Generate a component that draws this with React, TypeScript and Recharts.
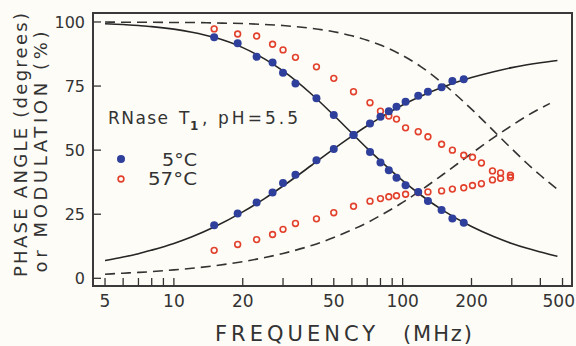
import { ComposedChart, Line, ReferenceArea, Scatter, XAxis, YAxis } from "recharts";

// frequencies (MHz) for the fitted curves
const fitFreq = [5, 6, 7, 8, 10, 12, 15, 20, 25, 30, 40, 50, 60, 70, 80, 100, 120, 150, 200, 250, 300, 350, 400, 440, 475];
// 5°C fit (solid)
const phaseFit5 = [6.9, 8.3, 9.6, 11.0, 13.6, 16.2, 20.0, 25.9, 31.2, 36.0, 44.1, 50.5, 55.5, 59.5, 62.7, 67.6, 71.0, 74.6, 78.3, 80.6, 82.2, 83.3, 84.1, 84.6, 85.0];
const modFit5 = [99.3, 99.0, 98.6, 98.2, 97.2, 96.0, 94.0, 90.0, 85.5, 80.9, 71.8, 63.6, 56.6, 50.7, 45.8, 38.1, 32.5, 26.5, 20.2, 16.3, 13.6, 11.7, 10.3, 9.3, 8.6];
// 57°C fit (dashed)
const phaseFit57 = [1.6, 2.0, 2.3, 2.6, 3.3, 3.9, 4.9, 6.5, 8.1, 9.7, 12.8, 15.9, 18.9, 21.7, 24.5, 29.6, 34.3, 40.5, 48.7, 54.9, 59.6, 63.4, 66.3, 68.2, null];
const modFit57 = [100.0, 99.9, 99.9, 99.9, 99.8, 99.8, 99.6, 99.4, 99.0, 98.6, 97.5, 96.2, 94.6, 92.9, 91.0, 86.9, 82.6, 76.0, 66.0, 57.5, 50.5, 44.8, 40.2, 37.1, 34.7];

// measured frequencies (MHz)
const measFreq = [15, 19, 23, 27, 30, 34, 42, 50, 61, 72, 80, 87, 94, 103, 117, 129, 148, 165, 185, 202, 221, 247, 268, 296];
// 5°C data (first 19 frequencies)
const phase5 = [20.7, 25.3, 29.6, 33.5, 37.2, 40.4, 46.1, 50.4, 55.9, 60.4, 63.0, 65.2, 66.9, 68.9, 71.2, 72.8, 74.5, 77.0, 77.7];
const mod5 = [94.0, 91.7, 86.4, 84.2, 80.2, 76.0, 70.2, 63.7, 55.9, 49.3, 45.2, 42.2, 39.2, 36.3, 33.7, 30.2, 26.6, 23.3, 21.7];
// 57°C data
const phase57 = [10.9, 13.2, 15.1, 17.1, 19.1, 21.4, 23.2, 25.6, 28.1, 30.1, 31.1, 31.8, 32.2, 32.8, 33.5, 33.7, 34.1, 34.8, 35.3, 36.2, 36.9, 38.4, 39.0, 39.3];
const mod57 = [97.3, 95.3, 94.5, 91.3, 89.1, 86.2, 82.5, 78.0, 72.8, 68.5, 65.2, 63.3, 62.1, 58.7, 57.2, 55.2, 52.3, 50.0, 48.0, 47.2, 45.0, 41.9, 41.1, 40.2];

const xTicks = [5, 6, 7, 8, 9, 10, 20, 30, 40, 50, 60, 70, 80, 90, 100, 200, 300, 400, 500];
const xLabeled = [5, 10, 20, 50, 100, 200, 500];
const yTicks = [0, 25, 50, 75, 100];

const X_DOMAIN: [number, number] = [4.43, 550];
const Y_DOMAIN: [number, number] = [-3, 103.5];

const ink = "#333333";
const blue = "#2f3f9c";
const red = "#e2402c";
const font = "'DejaVu Sans', sans-serif";

const toPoints = (xs: number[], ys: (number | null)[]) => ys.map((v, i) => ({ f: xs[i], v }));

const XTick = (props: any) => {
	const { x, y, payload } = props;
	// the last label sits against the right edge, as in the original
	const last = payload.value === 500;
	return (
		<g>
			<line x1={x} y1={y} x2={x} y2={y - 8} stroke={ink} strokeWidth={1.3} />
			{xLabeled.includes(payload.value) && (
				<text
					x={last ? 575 : x}
					y={y + 21}
					textAnchor={last ? "end" : "middle"}
					fontSize={17}
					fontFamily={font}
					fill={ink}
				>
					{payload.value}
				</text>
			)}
		</g>
	);
};

const YTick = (props: any) => {
	const { x, y, payload } = props;
	return (
		<g>
			<line x1={x} y1={y} x2={x + 8} y2={y} stroke={ink} strokeWidth={1.3} />
			<text x={x - 8} y={y} dy="0.36em" textAnchor="end" fontSize={16} fontFamily={font} fill={ink}>
				{payload.value}
			</text>
		</g>
	);
};

const BlueDot = (p: any) => <circle cx={p.cx} cy={p.cy} r={4} fill={blue} />;
const RedRing = (p: any) => <circle cx={p.cx} cy={p.cy} r={2.9} fill="none" stroke={red} strokeWidth={1.6} />;

export default function App() {
	return (
		<div style={{ position: "absolute", left: 0, top: 0, width: 576, height: 346, background: "#fdfcf6" }}>
			<ComposedChart width={576} height={346} margin={{ top: 13, right: 4, bottom: 0, left: 0 }}>
				<XAxis
					dataKey="f"
					type="number"
					scale="log"
					domain={X_DOMAIN}
					allowDataOverflow
					ticks={xTicks}
					interval={0}
					axisLine={false}
					tickLine={false}
					tickSize={0}
					tickMargin={0}
					height={60}
					tick={XTick}
				/>
				<YAxis
					dataKey="v"
					type="number"
					domain={Y_DOMAIN}
					allowDataOverflow
					ticks={yTicks}
					interval={0}
					axisLine={false}
					tickLine={false}
					tickSize={0}
					tickMargin={0}
					width={93}
					tick={YTick}
				/>
				<ReferenceArea
					x1={X_DOMAIN[0]}
					x2={X_DOMAIN[1]}
					y1={Y_DOMAIN[0]}
					y2={Y_DOMAIN[1]}
					fill="none"
					stroke="#3a3a3a"
					strokeWidth={2}
					ifOverflow="visible"
				/>
				<Line data={toPoints(fitFreq, phaseFit5)} dataKey="v" type="monotone" stroke="#262626" strokeWidth={1.6} dot={false} isAnimationActive={false} />
				<Line data={toPoints(fitFreq, modFit5)} dataKey="v" type="monotone" stroke="#262626" strokeWidth={1.6} dot={false} isAnimationActive={false} />
				<Line data={toPoints(fitFreq, phaseFit57)} dataKey="v" type="monotone" stroke="#333" strokeWidth={1.6} strokeDasharray="10 6" dot={false} isAnimationActive={false} />
				<Line data={toPoints(fitFreq, modFit57)} dataKey="v" type="monotone" stroke="#333" strokeWidth={1.6} strokeDasharray="10 6" dot={false} isAnimationActive={false} />
				<Scatter data={toPoints(measFreq, phase57)} dataKey="v" shape={RedRing} isAnimationActive={false} />
				<Scatter data={toPoints(measFreq, mod57)} dataKey="v" shape={RedRing} isAnimationActive={false} />
				<Scatter data={toPoints(measFreq, phase5)} dataKey="v" shape={BlueDot} isAnimationActive={false} />
				<Scatter data={toPoints(measFreq, mod5)} dataKey="v" shape={BlueDot} isAnimationActive={false} />
			</ComposedChart>
			<svg width={576} height={346} style={{ position: "absolute", left: 0, top: 0, pointerEvents: "none" }}>
				<g fontFamily={font} fill={ink}>
					<text transform="translate(27,145) rotate(-90)" textAnchor="middle" fontSize={18} textLength={264} lengthAdjust="spacing">
						PHASE ANGLE (degrees)
					</text>
					<text transform="translate(47,152) rotate(-90)" textAnchor="middle" fontSize={18} textLength={241} lengthAdjust="spacing">
						or MODULATION (%)
					</text>
					<text x={215} y={341} fontSize={21} textLength={160} lengthAdjust="spacing">FREQUENCY</text>
					<text x={403} y={341} fontSize={21} textLength={69} lengthAdjust="spacing">(MHz)</text>
					<text x={108} y={124} fontSize={17} textLength={60} lengthAdjust="spacing">RNase</text>
					<text x={179} y={124} fontSize={17}>T</text>
					<text x={190} y={130} fontSize={12} fontWeight="bold">1</text>
					<text x={202} y={124} fontSize={17}>,</text>
					<text x={218} y={124} fontSize={17} textLength={80} lengthAdjust="spacing">pH=5.5</text>
					<text x={162} y={166} fontSize={17} textLength={35} lengthAdjust="spacingAndGlyphs">5°C</text>
					<text x={148} y={185} fontSize={17} textLength={49} lengthAdjust="spacingAndGlyphs">57°C</text>
				</g>
				<circle cx={121} cy={159} r={4} fill={blue} />
				<circle cx={121} cy={179} r={2.9} fill="none" stroke={red} strokeWidth={1.6} />
			</svg>
		</div>
	);
}
